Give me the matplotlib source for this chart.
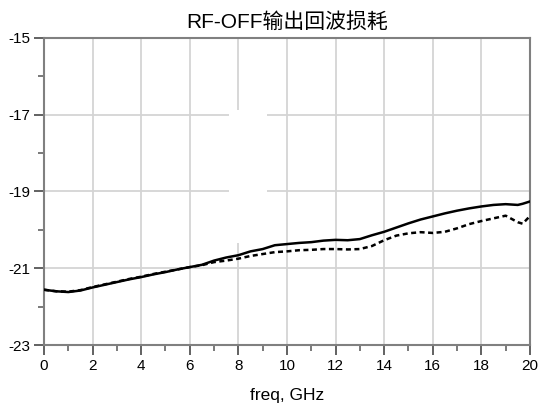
import numpy as np
import matplotlib
matplotlib.use("Agg")
import matplotlib.pyplot as plt
from matplotlib.patches import Rectangle

plt.rcParams['font.family'] = ['Liberation Sans', 'Noto Sans CJK SC', 'DejaVu Sans']
plt.rcParams['axes.unicode_minus'] = False

# frequency in GHz and return loss in dB
freq = [0, 0.5, 1, 1.5, 2, 2.5, 3, 3.5, 4, 4.5, 5, 5.5, 6, 6.5, 7, 7.5, 8, 8.5, 9, 9.5,
        10, 10.5, 11, 11.5, 12, 12.5, 13, 13.5, 14, 14.5, 15, 15.5, 16, 16.5, 17, 17.5,
        18, 18.5, 19, 19.5, 19.7, 20]
s_solid = [-21.56, -21.60, -21.62, -21.58, -21.50, -21.43, -21.36, -21.29, -21.23, -21.16,
           -21.10, -21.03, -20.97, -20.91, -20.80, -20.72, -20.66, -20.56, -20.50, -20.40,
           -20.37, -20.34, -20.32, -20.28, -20.26, -20.27, -20.24, -20.14, -20.05, -19.94,
           -19.83, -19.73, -19.65, -19.57, -19.50, -19.44, -19.39, -19.35, -19.33, -19.35,
           -19.32, -19.26]
s_dashed = [-21.56, -21.60, -21.61, -21.57, -21.49, -21.42, -21.35, -21.28, -21.22, -21.15,
            -21.09, -21.03, -20.97, -20.92, -20.84, -20.80, -20.75, -20.68, -20.63, -20.58,
            -20.56, -20.53, -20.52, -20.50, -20.50, -20.51, -20.50, -20.42, -20.27, -20.15,
            -20.09, -20.06, -20.08, -20.05, -19.96, -19.85, -19.77, -19.70, -19.63, -19.80,
            -19.84, -19.64]

x_major = [0, 2, 4, 6, 8, 10, 12, 14, 16, 18, 20]
y_major = [-15, -17, -19, -21, -23]

fig = plt.figure(figsize=(5.38, 4.12), dpi=100)
ax = fig.add_axes([0.0818, 0.1626, 0.9032, 0.7452])

ax.plot(freq, s_solid, color="black", linewidth=1.8, zorder=4)
ax.plot(freq, s_dashed, color="black", linewidth=1.8, linestyle=(0, (2.0, 1.4)), zorder=4)

ax.set_xlim(0, 20)
ax.set_ylim(-23, -15)
ax.set_xticks(x_major)
ax.set_xticks(np.arange(1, 20, 2), minor=True)
ax.set_yticks(y_major)
ax.set_yticks([-16, -18, -20, -22], minor=True)

ax.grid(True, which="major", color="#d4d4d4", linewidth=1.3, zorder=0)
ax.set_axisbelow(True)

# white blank patch seen in the original screenshot
ax.add_patch(Rectangle((7.61, -20.34), 1.57, 3.47, facecolor="white",
                       edgecolor="none", zorder=1))

for s in ax.spines.values():
    s.set_color("#808080")
    s.set_linewidth(1.5)

ax.tick_params(which="major", direction="out", length=7, width=1.3, color="#555555",
               labelsize=11, pad=3)
ax.tick_params(which="minor", direction="out", length=4, width=1.1, color="#555555")

ax.set_title("RF-OFF输出回波损耗", fontsize=15, pad=7)
ax.set_xlabel("freq, GHz", fontsize=12.5, labelpad=11)

fig.savefig("out.png", dpi=100)
